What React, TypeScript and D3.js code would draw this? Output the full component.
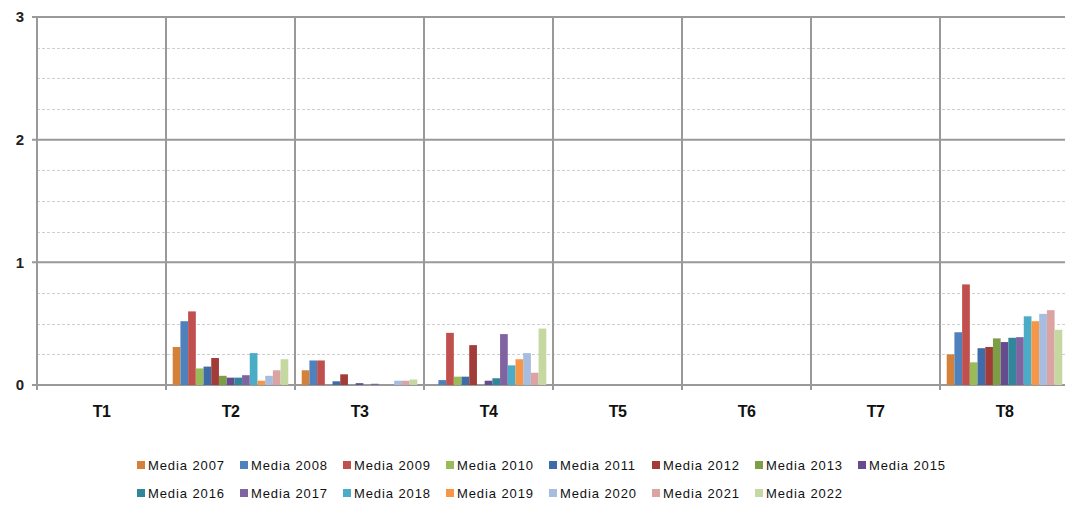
import React from "react";
import * as d3 from "d3";

const categories = ["T1", "T2", "T3", "T4", "T5", "T6", "T7", "T8"];
const seriesNames = [
  "Media 2007", "Media 2008", "Media 2009", "Media 2010", "Media 2011",
  "Media 2012", "Media 2013", "Media 2015", "Media 2016", "Media 2017",
  "Media 2018", "Media 2019", "Media 2020", "Media 2021", "Media 2022",
];
const seriesColors = [
  "#d4823a", "#4f81bd", "#c0504d", "#9bbb59", "#3d6ca8",
  "#a23c39", "#7d9e45", "#664c8e", "#31869b", "#8064a2",
  "#4bacc6", "#f79646", "#a6bde0", "#dba3a2", "#c4d8a0",
];
// values[series][category]
const s2007 = [0, 0.31, 0.12, 0, 0, 0, 0, 0.25];
const s2008 = [0, 0.52, 0.2, 0.04, 0, 0, 0, 0.43];
const s2009 = [0, 0.6, 0.2, 0.425, 0, 0, 0, 0.82];
const s2010 = [0, 0.135, 0, 0.068, 0, 0, 0, 0.185];
const s2011 = [0, 0.15, 0.03, 0.068, 0, 0, 0, 0.3];
const s2012 = [0, 0.22, 0.087, 0.325, 0, 0, 0, 0.31];
const s2013 = [0, 0.075, 0, 0, 0, 0, 0, 0.38];
const s2015 = [0, 0.06, 0.015, 0.035, 0, 0, 0, 0.35];
const s2016 = [0, 0.06, 0, 0.055, 0, 0, 0, 0.385];
const s2017 = [0, 0.08, 0.01, 0.415, 0, 0, 0, 0.39];
const s2018 = [0, 0.26, 0, 0.16, 0, 0, 0, 0.56];
const s2019 = [0, 0.035, 0, 0.21, 0, 0, 0, 0.52];
const s2020 = [0, 0.075, 0.035, 0.26, 0, 0, 0, 0.58];
const s2021 = [0, 0.12, 0.035, 0.1, 0, 0, 0, 0.61];
const s2022 = [0, 0.21, 0.045, 0.46, 0, 0, 0, 0.45];
const seriesValues = [
  s2007, s2008, s2009, s2010, s2011, s2012, s2013, s2015,
  s2016, s2017, s2018, s2019, s2020, s2021, s2022,
];
const yTicks = [0, 1, 2, 3];
const yMinor = [0.25, 0.5, 0.75, 1.25, 1.5, 1.75, 2.25, 2.5, 2.75];

export default function App() {
  const W = 1065, H = 507;
  const left = 37, right = 1069, top = 17, bottom = 385;
  const x = d3.scaleBand<string>().domain(categories).range([left, right]).padding(0);
  const bw = x.bandwidth();
  const xi = d3.scaleBand<string>().domain(seriesNames).range([bw * 0.052, bw * 0.948]).padding(0);
  const y = d3.scaleLinear().domain([0, 3]).range([bottom, top]);
  const axisColor = "#999999";
  const legendRows = [seriesNames.slice(0, 8), seriesNames.slice(8)];
  const legX = d3.scaleLinear().domain([0, 1]).range([137, 240]);
  const legY = [465, 493];
  return (
    <svg width={W} height={H} style={{ position: "absolute", left: 0, top: 0, background: "#fff" }}
      fontFamily="'Liberation Sans', Arial, sans-serif">
      <rect width={W} height={H} fill="#fff" />
      {yMinor.map((v) => (
        <line key={"m" + v} x1={left} x2={right} y1={Math.round(y(v)) + 0.5} y2={Math.round(y(v)) + 0.5}
          stroke="#cfcfcf" strokeWidth={1} strokeDasharray="3,2" />
      ))}
      {yTicks.map((v) => (
        <line key={"g" + v} x1={left - 5} x2={right} y1={y(v)} y2={y(v)} stroke={axisColor} strokeWidth={2} />
      ))}
      {categories.map((c) => (
        <line key={"v" + c} x1={x(c)!} x2={x(c)!} y1={top} y2={bottom + 5} stroke={axisColor} strokeWidth={2} />
      ))}
      {seriesNames.map((s, si) =>
        categories.map((c, ci) => {
          const v = seriesValues[si][ci];
          if (!v) return null;
          return (
            <rect key={s + c} x={x(c)! + xi(s)!} y={y(v)} width={xi.bandwidth()} height={y(0) - y(v)}
              fill={seriesColors[si]} />
          );
        })
      )}
      {yTicks.map((v) => (
        <text key={"t" + v} x={24} y={y(v)} dy="0.35em" textAnchor="end" fontSize={15} fontWeight="bold" fill="#222">
          {v}
        </text>
      ))}
      {categories.map((c) => (
        <text key={"c" + c} x={x(c)! + bw / 2} y={411} dy="0.35em" textAnchor="middle" fontSize={16}
          fontWeight="bold" fill="#111" letterSpacing={-0.5}>
          {c}
        </text>
      ))}
      {legendRows.map((row, ri) =>
        row.map((s, i) => {
          const si = ri * 8 + i;
          const lx = legX(i);
          return (
            <g key={"l" + s}>
              <rect x={lx} y={legY[ri] - 4} width={8} height={8} fill={seriesColors[si]} />
              <text x={lx + 11} y={legY[ri]} dy="0.35em" fontSize={13} letterSpacing={0.9} fill="#111">{s}</text>
            </g>
          );
        })
      )}
    </svg>
  );
}
